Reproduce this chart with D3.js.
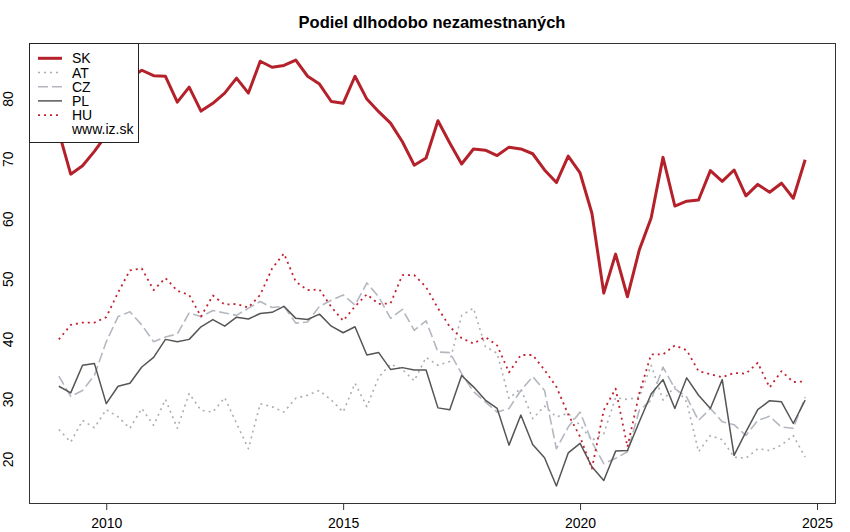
<!DOCTYPE html>
<html>
<head>
<meta charset="utf-8">
<script src="https://cdn.jsdelivr.net/npm/d3@7"></script>
<style>
  body { margin: 0; background: #fff; }
  svg { font-family: "Liberation Sans", Arial, Helvetica, sans-serif; }
</style>
</head>
<body>
<svg width="850" height="532"></svg>
<script>
// quarterly values, 2009 Q1 .. 2024 Q4
const startYear = 2009;
const skValues = [74.5, 67.5, 68.9, 71.3, 74.0, 78.5, 83.5, 84.8, 83.9, 83.8,
    79.5, 82.0, 78.0, 79.3, 81.0, 83.5, 81.0, 86.3, 85.3, 85.6,
    86.5, 83.8, 82.5, 79.6, 79.3, 83.8, 80.0, 77.9, 76.0, 72.9,
    69.0, 70.2, 76.4, 72.7, 69.2, 71.7, 71.5, 70.6, 72.0, 71.7,
    70.9, 68.2, 66.1, 70.5, 67.7, 61.0, 47.7, 54.2, 47.1, 54.9,
    60.2, 70.3, 62.2, 63.0, 63.2, 68.1, 66.3, 68.2, 63.9, 65.8,
    64.5, 66.0, 63.5, 69.9];
const atValues = [25.0, 22.9, 26.5, 25.3, 28.3, 27.1, 25.2, 28.5, 25.7, 30.0,
    25.2, 31.0, 28.2, 27.9, 30.3, 26.0, 21.8, 29.3, 28.8, 27.9,
    30.2, 30.7, 31.5, 29.9, 27.9, 32.7, 28.8, 33.7, 35.9, 35.0,
    33.1, 37.0, 35.7, 36.3, 44.0, 45.2, 38.8, 37.7, 30.2, 31.8,
    26.8, 28.9, 27.1, 27.7, 25.7, 23.2, 24.3, 30.3, 30.0, 30.4,
    35.7, 29.9, 32.1, 29.6, 21.3, 24.0, 23.3, 20.4, 20.2, 21.8,
    21.5, 22.4, 24.0, 20.4];
const czValues = [33.9, 30.5, 31.5, 34.0, 39.6, 43.8, 44.6, 42.4, 39.6, 40.4,
    40.9, 44.4, 43.8, 44.8, 44.4, 44.0, 45.2, 46.3, 45.3, 45.5,
    42.7, 42.9, 45.5, 46.5, 47.4, 45.7, 49.4, 47.1, 43.5, 45.0,
    41.5, 43.1, 37.9, 37.8, 34.3, 31.3, 29.6, 27.9, 28.5, 31.5,
    33.8, 31.5, 21.8, 25.4, 27.9, 22.9, 19.3, 20.2, 21.3, 28.2,
    29.9, 35.4, 31.8, 30.4, 26.5, 28.5, 26.3, 25.8, 24.0, 26.5,
    27.2, 25.4, 25.2, 30.4];
const plValues = [32.2, 31.1, 35.7, 36.0, 29.3, 32.2, 32.7, 35.4, 37.0, 40.0,
    39.6, 40.0, 42.1, 43.3, 42.2, 43.7, 43.4, 44.3, 44.5, 45.5,
    43.5, 43.3, 44.2, 42.2, 41.1, 42.1, 37.4, 37.8, 35.0, 35.3,
    34.9, 34.9, 28.6, 28.3, 34.0, 32.1, 29.9, 28.5, 22.4, 27.4,
    22.5, 20.3, 15.6, 21.1, 22.7, 18.8, 16.5, 21.4, 21.5, 26.3,
    30.9, 33.3, 28.5, 33.6, 30.7, 28.5, 33.3, 20.7, 24.6, 28.3,
    29.8, 29.6, 26.0, 29.9];
const huValues = [40.0, 42.4, 42.8, 42.8, 43.7, 47.8, 51.5, 51.8, 48.2, 50.2,
    48.1, 47.4, 43.8, 47.3, 45.8, 45.9, 45.3, 47.4, 51.8, 54.3,
    49.6, 48.2, 48.3, 45.4, 43.1, 45.5, 47.5, 45.9, 46.0, 50.7,
    50.7, 48.7, 45.2, 42.1, 40.2, 39.3, 40.4, 39.0, 34.5, 37.4,
    37.4, 34.9, 32.1, 27.5, 23.8, 18.5, 28.2, 31.8, 22.1, 31.0,
    37.5, 37.5, 39.0, 38.2, 34.7, 34.2, 33.7, 34.4, 34.3, 36.1,
    32.0, 34.7, 32.9, 33.0];
const xTicks = [2010, 2015, 2020, 2025];
const yTicks = [20, 30, 40, 50, 60, 70, 80];
const title = "Podiel dlhodobo nezamestnaných";
const legendLabels = ["SK", "AT", "CZ", "PL", "HU"];
const sourceLabel = "www.iz.sk";

const quarters = skValues.map((d, i) => startYear + i / 4);

const series = [
    { name: "SK", values: skValues, color: "#b5212b", width: 3, dash: null },
    { name: "AT", values: atValues, color: "#a9adb4", width: 1.6, dash: "2,4" },
    { name: "CZ", values: czValues, color: "#b3b8c0", width: 1.6, dash: "10,4" },
    { name: "PL", values: plValues, color: "#555555", width: 1.5, dash: null },
    { name: "HU", values: huValues, color: "#c4202e", width: 1.8, dash: "2,4" }
];

const svg = d3.select("svg");
const plotLeft = 29, plotRight = 835, plotTop = 43, plotBottom = 503;

// R-style 4% padding on both axes
const xExt = d3.extent(quarters);
const xPad = (xExt[1] - xExt[0]) * 0.04;
const xScale = d3.scaleLinear().domain([xExt[0] - xPad, xExt[1] + xPad]).range([plotLeft, plotRight]);

const allValues = series.flatMap(s => s.values);
const yExt = d3.extent(allValues);
const yPad = (yExt[1] - yExt[0]) * 0.04;
const yScale = d3.scaleLinear().domain([yExt[0] - yPad, yExt[1] + yPad]).range([plotBottom, plotTop]);

svg.append("text")
    .attr("x", (plotLeft + plotRight) / 2)
    .attr("y", 28)
    .attr("text-anchor", "middle")
    .attr("font-weight", "bold")
    .attr("font-size", "16.5px")
    .text(title);

// x axis
const xAxisG = svg.append("g")
    .attr("transform", `translate(0,${plotBottom})`)
    .call(d3.axisBottom(xScale).tickValues(xTicks).tickFormat(d3.format("d")).tickSize(7).tickPadding(8));
xAxisG.select(".domain").remove();
xAxisG.selectAll("line").attr("stroke", "#333");
xAxisG.selectAll("text")
    .attr("font-size", "14px")
    .attr("font-family", "Liberation Sans, Arial, sans-serif")
    .attr("fill", "#000");

// y labels, rotated like R's default
svg.append("g").selectAll("text")
    .data(yTicks)
    .enter()
    .append("text")
    .attr("transform", d => `translate(12.5,${yScale(d)}) rotate(-90)`)
    .attr("text-anchor", "middle")
    .attr("font-size", "14px")
    .text(d => d);

const line = d3.line()
    .x((d, i) => xScale(quarters[i]))
    .y(d => yScale(d));

series.forEach(s => {
    svg.append("path")
        .datum(s.values)
        .attr("fill", "none")
        .attr("stroke", s.color)
        .attr("stroke-width", s.width)
        .attr("stroke-dasharray", s.dash)
        .attr("stroke-linejoin", "round")
        .attr("d", line);
});

// plot box
svg.append("rect")
    .attr("x", plotLeft + 0.5)
    .attr("y", plotTop + 0.5)
    .attr("width", plotRight - plotLeft)
    .attr("height", plotBottom - plotTop)
    .attr("fill", "none")
    .attr("stroke", "#333");

// legend
const legend = svg.append("g");
legend.append("rect")
    .attr("x", plotLeft + 0.5)
    .attr("y", plotTop + 0.5)
    .attr("width", 109)
    .attr("height", 99)
    .attr("fill", "#fff")
    .attr("stroke", "#222");

const rowY = i => 58.3 + i * 14.2;
series.forEach((s, i) => {
    legend.append("line")
        .attr("x1", 38).attr("x2", 62)
        .attr("y1", rowY(i)).attr("y2", rowY(i))
        .attr("stroke", s.color)
        .attr("stroke-width", s.width)
        .attr("stroke-dasharray", s.dash);
    legend.append("text")
        .attr("x", 72)
        .attr("y", rowY(i) + 5)
        .attr("font-size", "14px")
        .text(legendLabels[i]);
});
legend.append("text")
    .attr("x", 72)
    .attr("y", rowY(5) + 5)
    .attr("font-size", "14px")
    .text(sourceLabel);
</script>
</body>
</html>
